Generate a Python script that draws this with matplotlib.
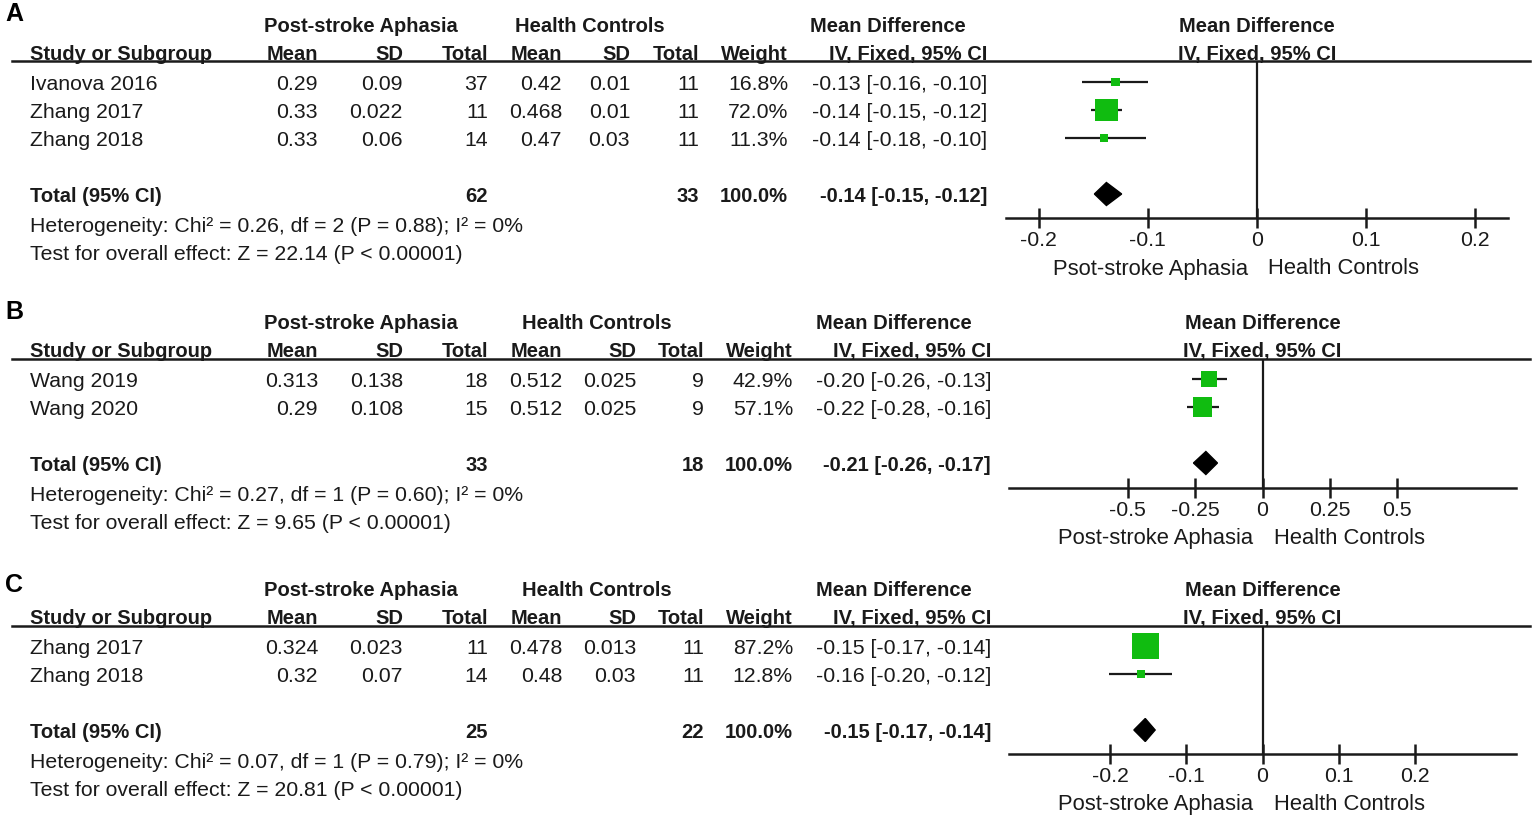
import matplotlib
matplotlib.use('Agg')
import matplotlib.pyplot as plt
import matplotlib.transforms as mtransforms
from matplotlib.patches import Polygon
from matplotlib.lines import Line2D

plt.rcParams['font.family'] = ['Liberation Sans', 'DejaVu Sans']
plt.rcParams['axes.unicode_minus'] = False

# ---- data: panel A ----
a_study = ['Ivanova 2016', 'Zhang 2017', 'Zhang 2018']
a_psa_mean = [0.29, 0.33, 0.33]
a_psa_sd = [0.09, 0.022, 0.06]
a_psa_n = [37, 11, 14]
a_hc_mean = [0.42, 0.468, 0.47]
a_hc_sd = [0.01, 0.01, 0.03]
a_hc_n = [11, 11, 11]
a_weight = [16.8, 72.0, 11.3]
a_md = [-0.13, -0.138, -0.14]
a_lo = [-0.16, -0.152, -0.176]
a_hi = [-0.10, -0.124, -0.102]
a_total = [62, 33, -0.138, -0.149, -0.124]     # n psa, n hc, md, lo, hi
a_het = [0.26, 2, 0.88, 0, 22.14]              # chi2, df, p, I2, Z
a_ticks = [-0.2, -0.1, 0, 0.1, 0.2]
a_left_label = 'Psot-stroke Aphasia'

# ---- data: panel B ----
b_study = ['Wang 2019', 'Wang 2020']
b_psa_mean = [0.313, 0.29]
b_psa_sd = [0.138, 0.108]
b_psa_n = [18, 15]
b_hc_mean = [0.512, 0.512]
b_hc_sd = [0.025, 0.025]
b_hc_n = [9, 9]
b_weight = [42.9, 57.1]
b_md = [-0.198, -0.222]
b_lo = [-0.262, -0.28]
b_hi = [-0.131, -0.16]
b_total = [33, 18, -0.21, -0.256, -0.167]
b_het = [0.27, 1, 0.60, 0, 9.65]
b_ticks = [-0.5, -0.25, 0, 0.25, 0.5]
b_left_label = 'Post-stroke Aphasia'

# ---- data: panel C ----
c_study = ['Zhang 2017', 'Zhang 2018']
c_psa_mean = [0.324, 0.32]
c_psa_sd = [0.023, 0.07]
c_psa_n = [11, 14]
c_hc_mean = [0.478, 0.48]
c_hc_sd = [0.013, 0.03]
c_hc_n = [11, 11]
c_weight = [87.2, 12.8]
c_md = [-0.154, -0.16]
c_lo = [-0.168, -0.201]
c_hi = [-0.141, -0.119]
c_total = [25, 22, -0.154, -0.169, -0.141]
c_het = [0.07, 1, 0.79, 0, 20.81]
c_ticks = [-0.2, -0.1, 0, 0.1, 0.2]
c_left_label = 'Post-stroke Aphasia'

W, H = 1535, 820
FS = 15.3      # regular text
FSB = 14.5     # bold headers
TXT = '#1a1a1a'
GREEN = '#10bc10'
PITCH = 28

fig = plt.figure(figsize=(W / 100, H / 100), dpi=100)
fig.patch.set_facecolor('white')


def draw_panel(letter, study, psa_mean, psa_sd, psa_n, hc_mean, hc_sd, hc_n,
               weight, md, lo, hi, total, het, ticks, left_label, lay):
    row0, head_y, axis_y = lay['row0'], lay['head_y'], lay['axis_y']
    x0, x1, xmax = lay['x0'], lay['x1'], lay['xmax']
    cols = lay['cols']

    ax = fig.add_axes([x0 / W, 1 - axis_y / H, (x1 - x0) / W, (axis_y - head_y) / H])
    ax.set_xlim(-xmax, xmax)
    ax.set_ylim((axis_y - row0) / PITCH, (head_y - row0) / PITCH)
    ax.patch.set_alpha(0)
    for s in ['top', 'right', 'left']:
        ax.spines[s].set_visible(False)
    ax.spines['bottom'].set_linewidth(1.8)
    ax.spines['bottom'].set_color(TXT)
    ax.set_yticks([])
    ax.set_xticks(ticks)
    ax.set_xticklabels([f'{t:g}' for t in ticks])
    ax.tick_params(axis='x', direction='inout', length=15, width=1.8, pad=1.5,
                   labelsize=FS, colors=TXT)
    ax.axvline(0, color=TXT, lw=1.6, zorder=1)

    tr = mtransforms.blended_transform_factory(fig.transFigure, ax.transData)

    def put(px, py, s, ha='left', bold=False):
        # py = pixel row centre of the glyphs
        size = FSB if bold else FS
        ax.text(px / W, (py - row0) / PITCH + 7.3 / PITCH, s, transform=tr,
                ha=ha, va='baseline', fontsize=size, color=TXT,
                fontweight='bold' if bold else 'normal', clip_on=False)

    # panel letter
    ax.text(5 / W, (lay['letter_y'] - row0) / PITCH, letter, transform=tr,
            ha='left', va='center', fontsize=18, fontweight='bold', color='black')

    # header rows
    h1, h2 = row0 - 58, row0 - 30
    put(361, h1, 'Post-stroke Aphasia', ha='center', bold=True)
    put(lay['hc_c'], h1, 'Health Controls', ha='center', bold=True)
    put(lay['md_c'], h1, 'Mean Difference', ha='center', bold=True)
    zero_px = (x0 + x1) / 2
    put(zero_px, h1, 'Mean Difference', ha='center', bold=True)
    put(30, h2, 'Study or Subgroup', bold=True)
    for cx, lab in zip(cols, ['Mean', 'SD', 'Total', 'Mean', 'SD', 'Total',
                              'Weight', 'IV, Fixed, 95% CI']):
        put(cx, h2, lab, ha='right', bold=True)
    put(zero_px, h2, 'IV, Fixed, 95% CI', ha='center', bold=True)
    fig.add_artist(Line2D([12 / W, 1530 / W], [1 - head_y / H] * 2,
                          transform=fig.transFigure, color=TXT, lw=1.8))

    # study rows
    rows = list(range(len(study)))
    for i in rows:
        py = row0 + PITCH * i
        put(30, py, study[i])
        vals = [str(psa_mean[i]), str(psa_sd[i]), str(psa_n[i]),
                str(hc_mean[i]), str(hc_sd[i]), str(hc_n[i]),
                f'{weight[i]:.1f}%', f'{md[i]:.2f} [{lo[i]:.2f}, {hi[i]:.2f}]']
        for cx, v in zip(cols, vals):
            put(cx, py, v, ha='right')

    ax.hlines(rows, lo, hi, color=TXT, lw=1.6, zorder=2)
    sizes = [((4.7 + 0.254 * w) * 0.72) ** 2 for w in weight]
    ax.scatter(md, rows, marker='s', s=sizes, color=GREEN, linewidths=0,
               zorder=3, clip_on=False)

    # total row
    ti = len(study) + 1
    ty = row0 + PITCH * ti
    put(30, ty, 'Total (95% CI)', bold=True)
    put(cols[2], ty, str(total[0]), ha='right', bold=True)
    put(cols[5], ty, str(total[1]), ha='right', bold=True)
    put(cols[6], ty, '100.0%', ha='right', bold=True)
    put(cols[7], ty, f'{total[2]:.2f} [{total[3]:.2f}, {total[4]:.2f}]',
        ha='right', bold=True)
    dh = 11.5 / PITCH
    ax.add_patch(Polygon([(total[3], ti), (total[2], ti - dh), (total[4], ti),
                          (total[2], ti + dh)], closed=True, color='black',
                         zorder=3))

    put(30, ty + 30, f'Heterogeneity: Chi\u00b2 = {het[0]:.2f}, df = {het[1]} '
                     f'(P = {het[2]:.2f}); I\u00b2 = {het[3]}%')
    put(30, ty + 58, f'Test for overall effect: Z = {het[4]:.2f} (P < 0.00001)')

    # side labels under the axis
    sy = (axis_y + 48 - row0) / PITCH + 7.5 / PITCH
    off_l = mtransforms.offset_copy(ax.transData, fig=fig, x=-9, y=0, units='dots')
    off_r = mtransforms.offset_copy(ax.transData, fig=fig, x=11, y=0, units='dots')
    ax.text(0, sy, left_label, transform=off_l, ha='right', va='baseline',
            fontsize=15.8, color=TXT, clip_on=False)
    ax.text(0, sy, 'Health Controls', transform=off_r, ha='left', va='baseline',
            fontsize=15.8, color=TXT, clip_on=False)


cols_a = [318, 403, 488, 562, 630, 699, 788, 987]
cols_bc = [318, 403, 488, 562, 636, 704, 793, 991]

lay_a = dict(row0=83, head_y=62, axis_y=219, x0=1006, x1=1508, xmax=0.23,
             letter_y=14, cols=cols_a, hc_c=590, md_c=888)
lay_b = dict(row0=380, head_y=360, axis_y=489, x0=1009, x1=1516, xmax=0.94,
             letter_y=312, cols=cols_bc, hc_c=597, md_c=894)
lay_c = dict(row0=647, head_y=627, axis_y=755, x0=1009, x1=1516, xmax=0.333,
             letter_y=585, cols=cols_bc, hc_c=597, md_c=894)

draw_panel('A', a_study, a_psa_mean, a_psa_sd, a_psa_n, a_hc_mean, a_hc_sd, a_hc_n,
           a_weight, a_md, a_lo, a_hi, a_total, a_het, a_ticks, a_left_label, lay_a)
draw_panel('B', b_study, b_psa_mean, b_psa_sd, b_psa_n, b_hc_mean, b_hc_sd, b_hc_n,
           b_weight, b_md, b_lo, b_hi, b_total, b_het, b_ticks, b_left_label, lay_b)
draw_panel('C', c_study, c_psa_mean, c_psa_sd, c_psa_n, c_hc_mean, c_hc_sd, c_hc_n,
           c_weight, c_md, c_lo, c_hi, c_total, c_het, c_ticks, c_left_label, lay_c)

fig.savefig('out.png', dpi=100)
